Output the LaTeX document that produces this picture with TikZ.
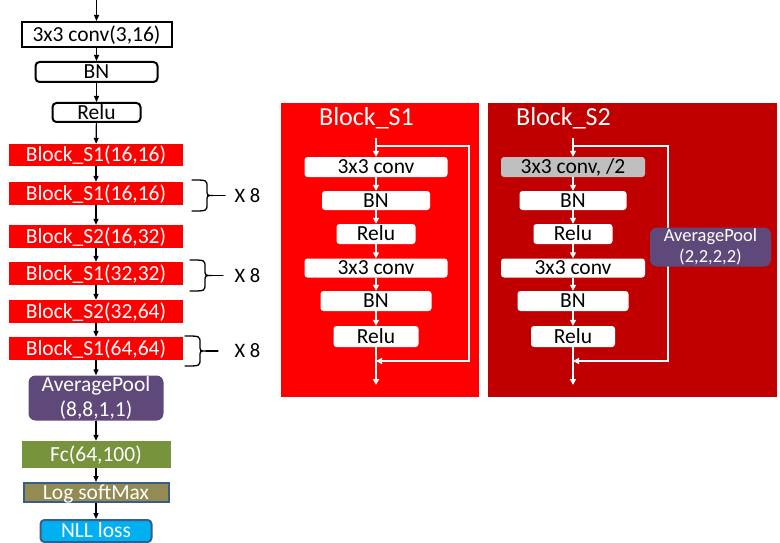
\documentclass[tikz,border=0pt]{standalone}
\usepackage{fontspec}
\setmainfont{Carlito}
\usetikzlibrary{arrows.meta}
\definecolor{blockred}{HTML}{FF0000}
\definecolor{darkred}{HTML}{C00000}
\definecolor{poolpurple}{HTML}{5F497A}
\definecolor{fcgreen}{HTML}{77933C}
\definecolor{softolive}{HTML}{948A54}
\definecolor{edgeblue}{HTML}{385D8A}
\definecolor{lossblue}{HTML}{00B0F0}
\definecolor{convgray}{HTML}{BFBFBF}
\begin{document}
\begin{tikzpicture}[x=1pt,y=-1pt,
  txt/.style={inner sep=0pt, text height=13.8pt, text depth=0pt,
              font=\fontsize{21.5}{24}\selectfont},
  outlinebox/.style={txt, draw=black, line width=2pt},
  roundbox/.style={outlinebox, rounded corners=4pt},
  redblock/.style={txt, fill=blockred, text=white},
  poolbox/.style={inner sep=0pt, fill=poolpurple, text=white, rounded corners=7pt,
                  align=center},
  fcbox/.style={txt, fill=fcgreen, text=white},
  softbox/.style={txt, fill=softolive, draw=edgeblue, line width=2pt, text=white},
  lossbox/.style={txt, fill=lossblue, draw=edgeblue, line width=2pt, text=white,
                  rounded corners=4pt},
  inbox/.style={txt, fill=white, rounded corners=3pt},
  graybox/.style={txt, fill=convgray, rounded corners=3pt},
  title/.style={inner sep=0pt, text=white, font=\fontsize{26}{30}\selectfont},
  flow/.style={line width=1.2pt, -{Triangle[length=6pt,width=5pt]}},
  wflow/.style={draw=white, line width=1.5pt, -{Triangle[length=6pt,width=6pt]}},
  bracepath/.style={line width=1.3pt, line cap=round},
  times/.style={inner sep=0pt, font=\fontsize{20.5}{24}\selectfont}
]
\useasboundingbox (0,0) rectangle (780,543);

% ---------------- main network column ----------------
\coordinate (in) at (96.5,0);
\node[outlinebox, minimum width=150pt, minimum height=25pt] (conv) at (96.5,34.5) {3x3 conv(3,16)};
\node[roundbox, minimum width=122pt, minimum height=20pt] (bn) at (96.5,72) {BN};
\node[roundbox, minimum width=88pt, minimum height=19pt] (relu) at (96.5,112.5) {Relu};
\node[redblock, minimum width=174pt, minimum height=22pt] (b1) at (96,155) {Block\_S1(16,16)};
\node[redblock, minimum width=174pt, minimum height=23pt] (b2) at (96,193.5) {Block\_S1(16,16)};
\node[redblock, minimum width=174pt, minimum height=23pt] (b3) at (96,236.5) {Block\_S2(16,32)};
\node[redblock, minimum width=174pt, minimum height=23pt] (b4) at (96,273.5) {Block\_S1(32,32)};
\node[redblock, minimum width=174pt, minimum height=23pt] (b5) at (96,311.5) {Block\_S2(32,64)};
\node[redblock, minimum width=174pt, minimum height=23pt] (b6) at (96,348.5) {Block\_S1(64,64)};
\node[poolbox, minimum width=135pt, minimum height=45pt,
      font=\fontsize{21.5}{24.5}\selectfont] (pool) at (96,398) {AveragePool\\(8,8,1,1)};
\node[fcbox, minimum width=149pt, minimum height=27pt] (fc) at (96,454.5) {Fc(64,100)};
\node[softbox, minimum width=145pt, minimum height=19pt] (lsm) at (96,492.5) {Log softMax};
\node[lossbox, minimum width=111pt, minimum height=22pt] (nll) at (96,531) {NLL loss};

\draw[flow] (in) -- (conv.north);
\draw[flow] (conv) -- (bn);
\draw[flow] (bn) -- (relu);
\draw[flow] (relu) -- (b1);
\draw[flow] (b1) -- (b2);
\draw[flow] (b2) -- (b3);
\draw[flow] (b3) -- (b4);
\draw[flow] (b4) -- (b5);
\draw[flow] (b5) -- (b6);
\draw[flow] (b6) -- (pool);
\draw[flow] (pool) -- (fc);
\draw[flow] (fc) -- (lsm);
\draw[flow] (lsm) -- (nll);

% repetition braces
\draw[bracepath] (192,180) .. controls (207,180) .. (207,187) -- (207,189.5)
  .. controls (207,195.5) .. (213,195.5) .. controls (207,195.5) .. (207,201.5)
  -- (207,204) .. controls (207,211) .. (192,211);
\draw[bracepath] (213,195.5) -- (225,195.5);
\node[times] (rep1) at (247.5,195.5) {X 8};

\draw[bracepath] (190,260) .. controls (205,260) .. (205,267) -- (205,269.5)
  .. controls (205,275.5) .. (212,275.5) .. controls (205,275.5) .. (205,281.5)
  -- (205,284) .. controls (205,291) .. (190,291);
\draw[bracepath] (212,275.5) -- (223,275.5);
\node[times] (rep2) at (247.5,275.5) {X 8};

\draw[bracepath] (185,336) .. controls (200,336) .. (200,343) -- (200,345)
  .. controls (200,351) .. (206,351) .. controls (200,351) .. (200,357)
  -- (200,359) .. controls (200,366) .. (185,366);
\draw[bracepath] (206,351) -- (218,351);
\node[times] (rep3) at (247.5,351) {X 8};

% ---------------- Block_S1 detail ----------------
\fill[blockred] (281,103) rectangle (479,397);
\node[title] (t1) at (366.5,118) {Block\_S1};
\coordinate (s1in) at (376,138);
\coordinate (s1split) at (376,146);
\coordinate (s1corner) at (469,361);
\coordinate (s1merge) at (376,361);
\coordinate (s1out) at (376,385);
\node[inbox, minimum width=143pt, minimum height=20pt] (s1c1) at (376,167) {3x3 conv};
\node[inbox, minimum width=108pt, minimum height=19pt] (s1n1) at (376,200.5) {BN};
\node[inbox, minimum width=79pt, minimum height=20pt] (s1r1) at (376,234) {Relu};
\node[inbox, minimum width=143pt, minimum height=19pt] (s1c2) at (376,268) {3x3 conv};
\node[inbox, minimum width=111pt, minimum height=20pt] (s1n2) at (376,301) {BN};
\node[inbox, minimum width=85pt, minimum height=21pt] (s1r2) at (376,336.5) {Relu};
\draw[wflow] (s1in) -- (s1c1.north);
\draw[wflow] (s1c1) -- (s1n1);
\draw[wflow] (s1n1) -- (s1r1);
\draw[wflow] (s1r1) -- (s1c2);
\draw[wflow] (s1c2) -- (s1n2);
\draw[wflow] (s1n2) -- (s1r2);
\draw[wflow] (s1r2.south) -- (s1out);
\draw[wflow] (s1split) -| (s1corner) -- (s1merge);

% ---------------- Block_S2 detail ----------------
\fill[darkred] (488,103) rectangle (777,397);
\node[title] (t2) at (563.5,118) {Block\_S2};
\coordinate (s2in) at (573,138);
\coordinate (s2split) at (573,146);
\coordinate (s2corner) at (668,361);
\coordinate (s2merge) at (573,361);
\coordinate (s2out) at (573,385);
\node[graybox, minimum width=144pt, minimum height=20pt] (s2c1) at (573,167) {3x3 conv, /2};
\node[inbox, minimum width=107pt, minimum height=19pt] (s2n1) at (573,200.5) {BN};
\node[inbox, minimum width=79pt, minimum height=20pt] (s2r1) at (573,234) {Relu};
\node[inbox, minimum width=144pt, minimum height=19pt] (s2c2) at (573,268) {3x3 conv};
\node[inbox, minimum width=111pt, minimum height=20pt] (s2n2) at (573,301) {BN};
\node[inbox, minimum width=84pt, minimum height=21pt] (s2r2) at (573,336.5) {Relu};
\draw[wflow] (s2in) -- (s2c1.north);
\draw[wflow] (s2c1) -- (s2n1);
\draw[wflow] (s2n1) -- (s2r1);
\draw[wflow] (s2r1) -- (s2c2);
\draw[wflow] (s2c2) -- (s2n2);
\draw[wflow] (s2n2) -- (s2r2);
\draw[wflow] (s2r2.south) -- (s2out);
\draw[wflow] (s2split) -| (s2corner) -- (s2merge);
\node[poolbox, minimum width=121pt, minimum height=39pt,
      font=\fontsize{18.5}{20.5}\selectfont] (s2pool) at (710.5,247) {AveragePool\\(2,2,2,2)};
\end{tikzpicture}
\end{document}
